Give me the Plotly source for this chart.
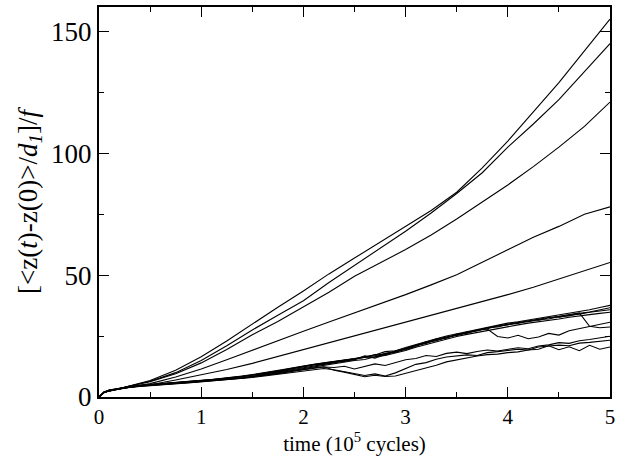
import plotly.graph_objects as go

# time grids (10^5 cycles)
t_smooth = [0, 0.05] + [round(0.25 * i, 2) for i in range(1, 21)]
t_noisy = [0, 0.05] + [round(0.1 * i, 1) for i in range(1, 51)]

# upper (smooth) curves
curve_a = [0, 2, 4, 6.8, 11, 16.5, 23, 30, 36.8, 43.5, 50.5, 57, 63.5, 70, 76.5, 84, 94, 105, 117, 129, 142, 155]
curve_b = [0, 2, 4, 6.5, 10, 15, 21, 27.5, 33.5, 39.5, 47, 54, 61, 68, 75.5, 83.5, 92, 102.5, 112, 122, 133.5, 145]
curve_c = [0, 2, 4, 6.3, 9.5, 14, 19.5, 25.5, 31, 37, 43, 49.5, 55, 60.5, 66.5, 73, 80, 87, 94.5, 102.5, 111, 121]
curve_d = [0, 2, 3.8, 5.5, 8.2, 11.5, 15.3, 19.3, 23.2, 27, 30.8, 34.5, 38.3, 42, 46, 50.2, 55.3, 60.5, 65.5, 70, 75, 78]
curve_e = [0, 2, 3.7, 5, 7, 9, 11.3, 13.8, 16.6, 19.7, 22.5, 25.2, 28, 30.6, 33.5, 36.5, 39.2, 42, 45, 48.5, 51.8, 55.2]

# lower (noisy) curves
curve_6 = [0, 2.1, 2.9, 3.7, 4.3, 4.8, 5.2, 5.6, 5.9, 6.2, 6.5, 6.9,
           7.2, 7.6, 8.1, 8.6, 9.2, 9.8, 10.5, 11.3, 12.0, 12.8,
           13.4, 14.0, 14.5, 15.3, 15.8, 16.6, 17.2, 18.6, 19.0, 20.3,
           21.6, 22.8, 23.9, 25.0, 25.9, 26.9, 27.6, 28.7, 29.4, 30.3,
           30.9, 31.6, 32.3, 32.8, 33.6, 34.1, 35.0, 35.8, 36.7, 37.6]
curve_7 = [0, 1.9, 2.7, 3.5, 4.1, 4.6, 5.0, 5.4, 5.7, 6.0, 6.3, 6.6,
           6.9, 7.3, 7.8, 8.3, 8.8, 9.4, 10.1, 10.9, 11.7, 12.5,
           13.1, 13.5, 14.3, 14.6, 15.5, 16.4, 16.3, 17.9, 18.3, 19.8,
           21.2, 22.0, 23.6, 24.1, 25.8, 26.2, 27.5, 28.0, 29.1, 29.6,
           30.6, 30.9, 31.8, 32.0, 33.0, 33.3, 34.3, 34.9, 35.9, 36.6]
curve_8 = [0, 2.0, 2.8, 3.6, 4.1, 4.6, 5.0, 5.3, 5.6, 5.9, 6.2, 6.5,
           6.8, 7.1, 7.5, 8.0, 8.5, 9.1, 9.8, 10.6, 11.3, 12.1,
           12.7, 13.4, 14.0, 14.9, 15.2, 16.9, 15.9, 17.5, 18.9, 19.4,
           20.7, 22.6, 23.1, 24.6, 25.2, 26.6, 27.2, 28.4, 28.7, 29.8,
           30.2, 31.2, 31.4, 32.5, 32.6, 33.6, 34.0, 34.8, 35.4, 35.8]
curve_9 = [0, 1.8, 2.6, 3.4, 4.0, 4.5, 4.9, 5.2, 5.5, 5.8, 6.1, 6.4,
           6.7, 7.0, 7.4, 7.9, 8.4, 8.9, 9.6, 10.3, 11.0, 11.8,
           12.4, 13.1, 13.8, 14.3, 15.0, 15.4, 16.5, 17.0, 18.0, 19.1,
           20.4, 21.5, 22.8, 23.7, 24.8, 25.7, 26.5, 27.4, 28.3, 29.0,
           29.6, 30.3, 30.8, 31.5, 32.0, 32.7, 33.1, 33.8, 34.3, 34.8]
curve_10 = [0, 2.1, 2.9, 3.7, 4.2, 4.7, 5.1, 5.5, 5.8, 6.1, 6.4, 6.7,
            7.0, 7.4, 7.9, 8.4, 8.9, 9.5, 10.2, 11.0, 11.8, 12.6,
            13.2, 13.8, 14.4, 15.0, 15.6, 16.1, 16.9, 17.8, 18.6, 19.7,
            21.0, 22.1, 23.3, 24.2, 25.4, 26.2, 27.3, 27.9, 24.8, 24.2,
            25.3, 23.9, 24.6, 26.1, 25.4, 27.2, 28.0, 29.1, 29.8, 30.7]
curve_11 = [0, 2.0, 2.8, 3.6, 4.2, 4.7, 5.1, 5.5, 5.8, 6.1, 6.4, 6.8,
            7.1, 7.5, 8.0, 8.5, 9.0, 9.7, 10.3, 11.1, 11.9, 12.7,
            13.3, 13.9, 14.6, 15.1, 15.7, 16.2, 17.4, 17.2, 18.8, 20.0,
            21.3, 22.4, 23.8, 24.6, 25.4, 26.7, 27.2, 28.4, 29.1, 30.0,
            30.7, 31.3, 32.0, 32.6, 33.1, 33.8, 34.5, 29.0, 28.4, 28.7]
curve_12 = [0, 1.9, 2.7, 3.5, 4.0, 4.4, 4.8, 5.1, 5.4, 5.7, 6.0, 6.3,
            6.6, 6.9, 7.3, 7.7, 8.2, 8.7, 9.3, 9.9, 10.6, 11.2,
            11.8, 12.3, 12.1, 12.6, 11.5, 12.4, 13.6, 12.9, 14.2, 15.3,
            15.8, 17.0, 16.6, 17.9, 18.4, 17.8, 18.7, 19.3, 18.9, 19.6,
            20.2, 19.8, 20.9, 21.4, 22.3, 22.0, 23.1, 23.6, 24.2, 24.9]
curve_13 = [0, 1.8, 2.6, 3.4, 3.9, 4.3, 4.7, 5.0, 5.3, 5.6, 5.9, 6.2,
            6.5, 6.8, 7.2, 7.6, 8.0, 8.5, 9.0, 9.6, 10.2, 10.8,
            11.3, 11.7, 11.2, 10.3, 9.6, 8.8, 9.5, 8.6, 9.9, 11.8,
            13.4, 14.1, 15.5, 16.4, 16.9, 17.3, 17.0, 18.2, 18.6, 19.1,
            19.6, 19.3, 20.5, 20.9, 21.3, 21.0, 22.1, 22.4, 22.9, 23.3]
curve_14 = [0, 1.9, 2.7, 3.5, 4.0, 4.5, 4.9, 5.2, 5.5, 5.8, 6.1, 6.4,
            6.7, 7.0, 7.4, 7.8, 8.3, 8.8, 9.4, 10.0, 10.7, 11.4,
            12.0, 12.4, 11.0, 10.2, 9.1, 8.3, 8.9, 8.4, 8.6, 9.7,
            10.6, 11.9, 13.0, 14.4, 15.3, 16.0, 16.8, 17.4, 17.6, 18.2,
            18.5, 19.3, 19.6, 21.0, 19.4, 20.6, 19.0, 21.2, 19.6, 20.5]

smooth_curves = [curve_a, curve_b, curve_c, curve_d, curve_e]
noisy_curves = [curve_6, curve_7, curve_8, curve_9, curve_10, curve_11, curve_12, curve_13, curve_14]

fig = go.Figure()
line_style = dict(color="black", width=1.1)
for ys in noisy_curves:
    fig.add_trace(go.Scatter(x=t_noisy, y=ys, mode="lines", line=line_style, showlegend=False))
for ys in smooth_curves:
    fig.add_trace(go.Scatter(x=t_smooth, y=ys, mode="lines", line=line_style, showlegend=False))

serif = "Liberation Serif, Times New Roman, serif"
axis_common = dict(
    showline=True, linecolor="black", linewidth=2, mirror="ticks",
    ticks="inside", ticklen=10, tickwidth=1, tickcolor="black",
    showgrid=False, zeroline=False,
)
fig.update_layout(
    width=625, height=457,
    margin=dict(l=99, r=15, t=5, b=60),
    paper_bgcolor="white", plot_bgcolor="white",
    font=dict(family=serif, color="black"),
    xaxis=dict(
        range=[0, 5], tick0=0, dtick=1,
        minor=dict(dtick=0.5, ticklen=5, ticks="inside", tickcolor="black", showgrid=False),
        tickfont=dict(family=serif, size=21),
        title=dict(text="time (10<sup>5</sup> cycles)", font=dict(family=serif, size=21), standoff=5),
        **axis_common,
    ),
    yaxis=dict(
        range=[0, 160], tick0=0, dtick=50,
        minor=dict(dtick=25, ticklen=5, ticks="inside", tickcolor="black", showgrid=False),
        tickfont=dict(family=serif, size=27),
        title=dict(text="[&lt;z(<i>t</i>)-z(0)&gt;/<i>d</i><sub><i>1</i></sub>]/<i>f</i>",
                   font=dict(family=serif, size=27), standoff=6),
        **axis_common,
    ),
)

fig.write_html("out.html")
